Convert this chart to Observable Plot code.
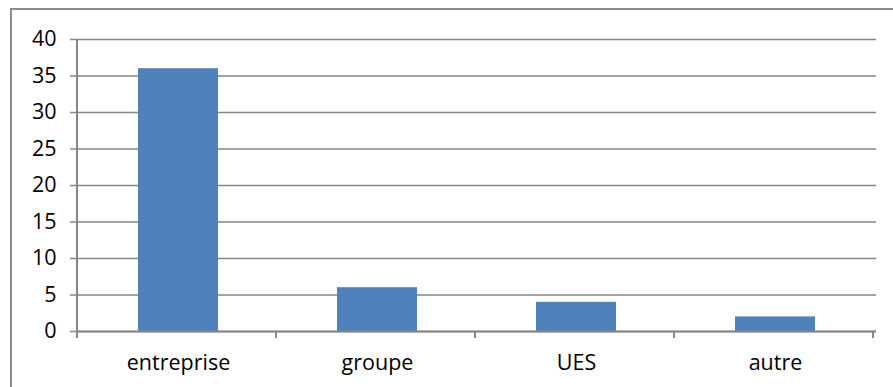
<!DOCTYPE html>
<html>
<head>
<meta charset="utf-8">
<script src="https://cdn.jsdelivr.net/npm/d3@7"></script>
<script src="https://cdn.jsdelivr.net/npm/@observablehq/plot@0.6"></script>
<style>
  html, body { margin: 0; padding: 0; background: #fff; overflow: hidden; }
  #wrap { position: relative; width: 893px; height: 387px; }
  #frame { position: absolute; left: 10px; top: 8px; width: 1000px; height: 500px; border: 2px solid #8c8c8c; box-sizing: border-box; }
  #chart { position: absolute; left: 0; top: 0; }
  #chart svg text { font-size: 21.5px !important; font-family: 'Open Sans', sans-serif; fill: #000; }
</style>
</head>
<body>
<div id="wrap">
  <div id="frame"></div>
  <div id="chart"></div>
</div>
<script>
const categories = ["entreprise", "groupe", "UES", "autre"];
const values = [36, 6, 4, 2];
const yTicks = [0, 5, 10, 15, 20, 25, 30, 35, 40];

const data = categories.map((c, i) => ({category: c, value: values[i]}));
const gray = "#868686";

const plot = Plot.plot({
  width: 893,
  height: 387,
  marginLeft: 77,
  marginRight: 17,
  marginTop: 39,
  marginBottom: 56,
  style: {fontFamily: "'Open Sans', sans-serif", fontSize: "21.5px", color: "#000", background: "transparent"},
  x: {domain: categories, paddingInner: 0.6, paddingOuter: 0.3, label: null},
  y: {domain: [0, 40], label: null},
  marks: [
    Plot.gridY(yTicks, {stroke: gray, strokeOpacity: 1, strokeWidth: 1.5}),
    Plot.barY(data, {x: "category", y: "value", fill: "#4f81bd"}),
    Plot.ruleY([0], {stroke: gray, strokeWidth: 2}),
    Plot.axisY(yTicks, {tickSize: 7, tickPadding: 14, stroke: gray, strokeWidth: 1.5, fill: "#000", label: null}),
    Plot.axisX({tickSize: 0, tickPadding: 23, label: null, fill: "#000"})
  ]
});

document.getElementById("chart").appendChild(plot);

// category boundary ticks and y axis line
const xs = plot.scale("x");
const step = xs.step;
const x0 = xs.range[0];
const svg = d3.select(plot);
const bounds = d3.range(categories.length + 1).map(i => x0 + i * step);
const y0 = 331, yTop = 39;
svg.append("line").attr("x1", x0).attr("x2", x0).attr("y1", yTop).attr("y2", y0)
  .attr("stroke", gray).attr("stroke-width", 2);
svg.selectAll("line.bt").data(bounds).join("line").attr("class", "bt")
  .attr("x1", d => d).attr("x2", d => d).attr("y1", y0).attr("y2", y0 + 7)
  .attr("stroke", gray).attr("stroke-width", 2);
</script>
</body>
</html>
